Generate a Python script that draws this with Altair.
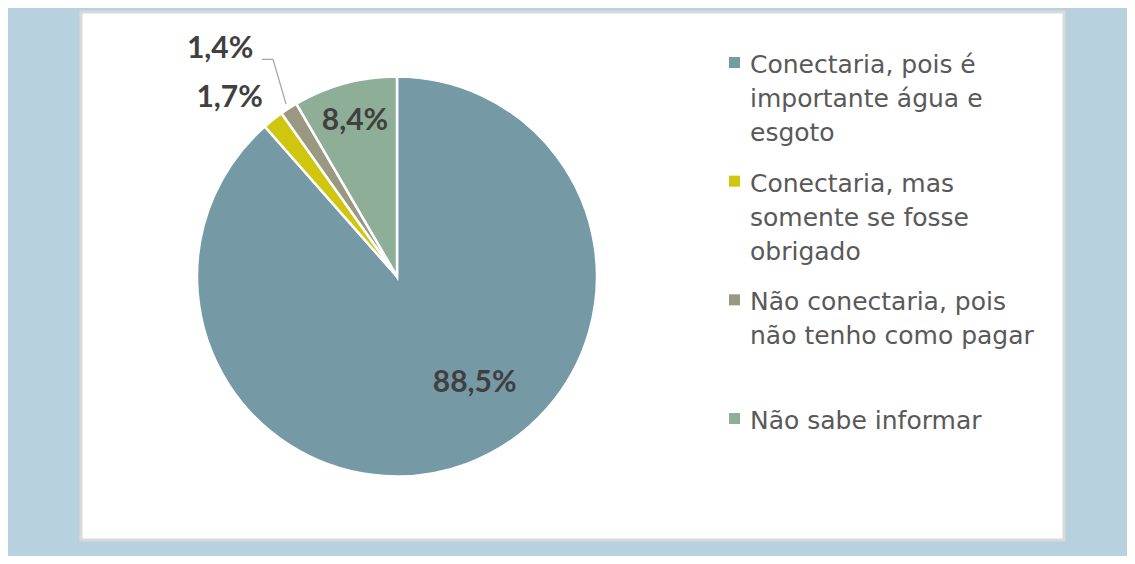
import math
import altair as alt
import pandas as pd

# ---- data ----
categories = [
    "Conectaria, pois é importante água e esgoto",
    "Conectaria, mas somente se fosse obrigado",
    "Não conectaria, pois não tenho como pagar",
    "Não sabe informar",
]
legend_lines = [
    ["Conectaria, pois é", "importante água e", "esgoto"],
    ["Conectaria, mas", "somente se fosse", "obrigado"],
    ["Não conectaria, pois", "não tenho como pagar"],
    ["Não sabe informar"],
]
values = [88.5, 1.7, 1.4, 8.4]
labels = ["88,5%", "1,7%", "1,4%", "8,4%"]
colors = ["#7599A5", "#D0C610", "#9A9880", "#8FAE97"]

df = pd.DataFrame({
    "cat": categories,
    "value": values,
    "label": labels,
    "idx": list(range(len(categories))),
    "legend": ["\n".join(l) for l in legend_lines],
})

# ---- layout / style ----
CX, CY, R = 316, 264.5, 200
FONT = "Lato"
LEGEND_FONT = "DejaVu Sans"
theta_scale = alt.Scale(domain=[0, sum(values)], range=[0, 2 * math.pi])
color = alt.Color("cat:N", scale=alt.Scale(domain=categories, range=colors), legend=None)

base = alt.Chart(df)

pie = base.mark_arc(outerRadius=R, stroke="white", strokeWidth=2.5).encode(
    theta=alt.Theta("value:Q", stack=True, scale=theta_scale),
    order=alt.Order("idx:Q"),
    color=color,
    x=alt.value(CX),
    y=alt.value(CY),
)

# label placement per slice: radius, dx, dy
label_style = [(132, 31, -17), (244, -16, 13), (288, -21, 14.6), (161, 0, 0)]
lab_base = base.transform_window(
    cum="sum(value)", sort=[alt.SortField("idx")], frame=[None, 0]
).transform_calculate(mid="datum.cum - datum.value / 2")

layers = [pie]
for i, (r, dx, dy) in enumerate(label_style):
    layers.append(
        lab_base.transform_filter(alt.datum.idx == i)
        .mark_text(radius=r, dx=dx, dy=dy, font=FONT, fontWeight="bold",
                   fontSize=30, color="#404040")
        .encode(theta=alt.Theta("mid:Q", scale=theta_scale), text="label:N",
                x=alt.value(CX), y=alt.value(CY))
    )

# leader line for the 1,4% slice (start point derived from the slice angle)
k = 2
mid = sum(values[:k]) + values[k] / 2
ang = mid / sum(values) * 2 * math.pi
sx, sy = CX + 205 * math.sin(ang), CY - 205 * math.cos(ang)
lx, ly = 139, 37  # label centre after offsets
leader_df = pd.DataFrame({
    "px": [sx, lx + 53, lx + 42],
    "py": [sy, ly + 10.3, ly + 10.3],
    "o": [0, 1, 2],
})
leader = alt.Chart(leader_df).mark_line(color="#A6A6A6", strokeWidth=1.3).encode(
    x=alt.X("px:Q", scale=None),
    y=alt.Y("py:Q", scale=None),
    order="o:Q",
)
layers.append(leader)

# legend built from the categories
ypos = alt.Y("cat:N", scale=alt.Scale(type="point", domain=categories, range=[41, 397], padding=0), axis=None)
legend_text = base.mark_text(align="left", baseline="top", lineBreak="\n", lineHeight=34,
                             font=LEGEND_FONT, fontSize=25, color="#595959").encode(
    x=alt.value(669), y=ypos, text="legend:N")
legend_sq = base.mark_square(size=121, opacity=1, yOffset=9.5).encode(
    x=alt.value(653.5), y=ypos, color=color)
layers += [legend_text, legend_sq]

chart = alt.layer(*layers).properties(
    width=983,
    height=528,
    padding={"left": 73, "top": 4, "right": 63, "bottom": 16},
    autosize=alt.AutoSizeParams(type="none"),
    background="#B7D2DE",
).configure_view(fill="white", stroke="#D9D9D9", strokeWidth=3)

chart.save("out.html", embed_options={"renderer": "svg", "actions": False})
